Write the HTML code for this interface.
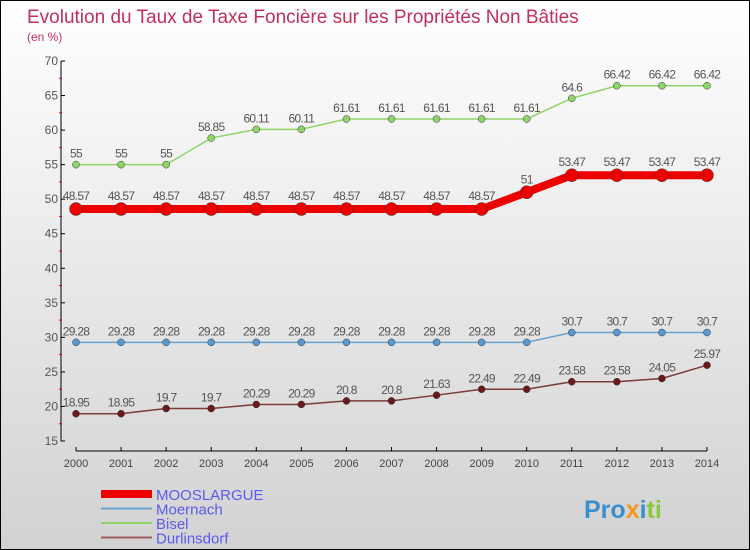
<!DOCTYPE html>
<html><head><meta charset="utf-8"><style>
body{margin:0}
#c{width:750px;height:550px;position:relative;box-sizing:border-box;border:1px solid #000;background:linear-gradient(#fff,#d2d2d2);font-family:"Liberation Sans",sans-serif;overflow:hidden}
svg text{font-family:"Liberation Sans",sans-serif}
</style></head><body>
<div id="c">
<svg id="s" width="750" height="550">
<text x="26" y="22" font-size="19" fill="#c0305a">Evolution du Taux de Taxe Foncière sur les Propriétés Non Bâties</text>
<text x="26" y="40" font-size="12" fill="#c0305a">(en %)</text>
<g id="g"></g>
<text x="583" y="517" font-size="25" font-weight="bold"><tspan fill="#3a8fd0">Pro</tspan><tspan fill="#f39a1e">x</tspan><tspan fill="#3a8fd0">i</tspan><tspan fill="#8cc63f">ti</tspan></text>
</svg>
</div>
<script>
const years=[2000,2001,2002,2003,2004,2005,2006,2007,2008,2009,2010,2011,2012,2013,2014];
const yTicks=[15,20,25,30,35,40,45,50,55,60,65,70];
const mooslargue=[48.57,48.57,48.57,48.57,48.57,48.57,48.57,48.57,48.57,48.57,51,53.47,53.47,53.47,53.47];
const moernach=[29.28,29.28,29.28,29.28,29.28,29.28,29.28,29.28,29.28,29.28,29.28,30.7,30.7,30.7,30.7];
const bisel=[55,55,55,58.85,60.11,60.11,61.61,61.61,61.61,61.61,61.61,64.6,66.42,66.42,66.42];
const durlinsdorf=[18.95,18.95,19.7,19.7,20.29,20.29,20.8,20.8,21.63,22.49,22.49,23.58,23.58,24.05,25.97];
const NS='http://www.w3.org/2000/svg';
const g=document.getElementById('g');
const X=i=>75+i*(706-75)/(years.length-1);
const Y=v=>440-(v-15)*(380/55);
function el(t,a,p){const e=document.createElementNS(NS,t);for(const k in a)e.setAttribute(k,a[k]);(p||g).appendChild(e);return e;}
let ax=el('line',{x1:60,y1:60,x2:60,y2:440,stroke:'#000'});


let ax2=el('line',{x1:75,y1:450,x2:706,y2:450,stroke:'#000'});


yTicks.forEach(v=>{
 el('line',{x1:60,y1:Y(v),x2:64,y2:Y(v),stroke:'#000'});
 if(v<70) el('line',{x1:58,y1:Y(v+2.5),x2:61,y2:Y(v+2.5),stroke:'#e00'});
 const t=el('text',{x:57,y:Y(v)+4,'font-size':12,fill:'#555','text-anchor':'end'});
 t.textContent=v;
 
 
});
years.forEach((y,i)=>{
 el('line',{x1:X(i),y1:446,x2:X(i),y2:450,stroke:'#000'});
 const t=el('text',{x:X(i),y:466,'font-size':11,fill:'#444','text-anchor':'middle'});
 t.textContent=y;
 
 
});
const series=[
 {d:bisel,c:'#8fd468',w:1.5,r:3.5,f:'#8fd468',n:'bisel'},
 {d:moernach,c:'#6aa3cf',w:1.5,r:3.5,f:'#5a9ad0',n:'moernach'},
 {d:durlinsdorf,c:'#7a3b3b',w:1.5,r:3.5,f:'#6a1a1a',n:'durlinsdorf'},
 {d:mooslargue,c:'#ee0000',w:8,r:6.5,f:'#ee0000',n:'mooslargue'}
];
series.forEach(s=>{
 const p=el('polyline',{points:s.d.map((v,i)=>X(i)+','+Y(v)).join(' '),fill:'none',stroke:s.c,'stroke-width':s.w});
 
 
 s.d.forEach((v,i)=>{
  const c=el('circle',{cx:X(i),cy:Y(v),r:s.r,fill:s.f,stroke:'#333','stroke-width':0.5});
  
  
  const t=el('text',{x:X(i),y:Y(v)-(s.n==='mooslargue'?9:7),'font-size':12,fill:'#555','text-anchor':'middle','letter-spacing':'-0.7'});
  t.textContent=v;
  
  
 });
});
const leg=[['MOOSLARGUE','#ee0000',8],['Moernach','#6aa3cf',2],['Bisel','#8fd468',2],['Durlinsdorf','#9a5a5a',2]];
leg.forEach((l,i)=>{
 const y=493+i*14.5;
 const ln=el('line',{x1:100,y1:y,x2:151,y2:y,stroke:l[1],'stroke-width':l[2]});
 
 
 const t=el('text',{x:155,y:y+6,'font-size':15,fill:'#5a5af0'});
 t.textContent=l[0];
 
 
});
</script>
</body></html>
